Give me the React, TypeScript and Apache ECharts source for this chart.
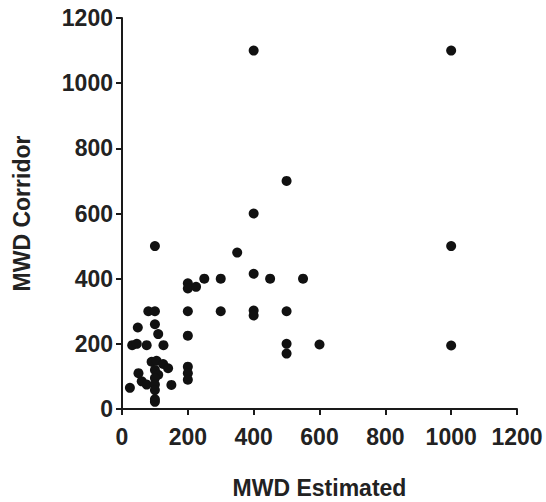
import React, { useEffect, useRef } from "react";
import * as echarts from "echarts";

const xTicks = [0, 200, 400, 600, 800, 1000, 1200];
const yTicks = [0, 200, 400, 600, 800, 1000, 1200];

const mwdEstimated = [
  400, 1000, 500, 400, 100, 1000, 350, 250, 300, 400, 450, 550,
  200, 200, 225, 200, 300, 400, 400, 500, 200, 500, 500, 600, 1000,
  200, 200, 200, 80, 100, 48, 100, 110, 31, 45, 75, 126,
  90, 105, 125, 140, 100, 110, 50, 60, 75, 24, 100, 100, 100, 150, 100, 100,
];
const mwdCorridor = [
  1100, 1100, 700, 600, 500, 500, 480, 400, 400, 415, 400, 400,
  386, 370, 375, 300, 300, 302, 287, 300, 225, 200, 170, 198, 195,
  130, 110, 90, 300, 300, 250, 260, 230, 196, 200, 196, 196,
  145, 148, 138, 125, 120, 105, 110, 85, 75, 65, 95, 75, 58, 74, 30, 22,
];

export default function App() {
  const ref = useRef<HTMLDivElement>(null);
  useEffect(() => {
    if (!ref.current) return;
    const chart = echarts.init(ref.current, null, { renderer: "svg" });
    const font = "'Liberation Sans', Arial, sans-serif";
    const data = mwdEstimated.map((x, i) => [x, mwdCorridor[i]]);
    const axisCommon = {
      type: "value" as const,
      min: 0,
      max: 1200,
      interval: 200,
      splitLine: { show: false },
      axisLine: { show: true, onZero: false, lineStyle: { color: "#1a1a1a", width: 2 } },
      axisTick: { show: true, inside: false, length: 6, lineStyle: { color: "#1a1a1a", width: 2 } },
      nameTextStyle: { fontFamily: font, fontWeight: "bold" as const, fontSize: 23, color: "#222" },
    };
    chart.setOption({
      animation: false,
      backgroundColor: "#fff",
      grid: {
        left: 122,
        right: 29,
        top: 18,
        bottom: 93,
        containLabel: false,
        outerBoundsMode: "none",
      },
      xAxis: {
        ...axisCommon,
        name: "MWD Estimated",
        nameLocation: "middle",
        nameGap: 67,
        axisLabel: {
          fontFamily: font,
          fontWeight: "bold",
          fontSize: 23,
          color: "#222",
          margin: 16,
          formatter: (v: number) => (xTicks.includes(v) ? String(v) : ""),
        },
      },
      yAxis: {
        ...axisCommon,
        name: "MWD Corridor",
        nameLocation: "middle",
        nameGap: 89,
        nameRotate: 90,
        axisLabel: {
          fontFamily: font,
          fontWeight: "bold",
          fontSize: 23,
          color: "#222",
          margin: 9,
          formatter: (v: number) => (yTicks.includes(v) ? String(v) : ""),
        },
      },
      series: [
        {
          type: "scatter",
          data,
          symbol: "circle",
          symbolSize: 10,
          itemStyle: { color: "#111", opacity: 1 },
        },
      ],
    });
    return () => chart.dispose();
  }, []);
  return <div ref={ref} style={{ width: 546, height: 502, position: "absolute", left: 0, top: 0 }} />;
}
